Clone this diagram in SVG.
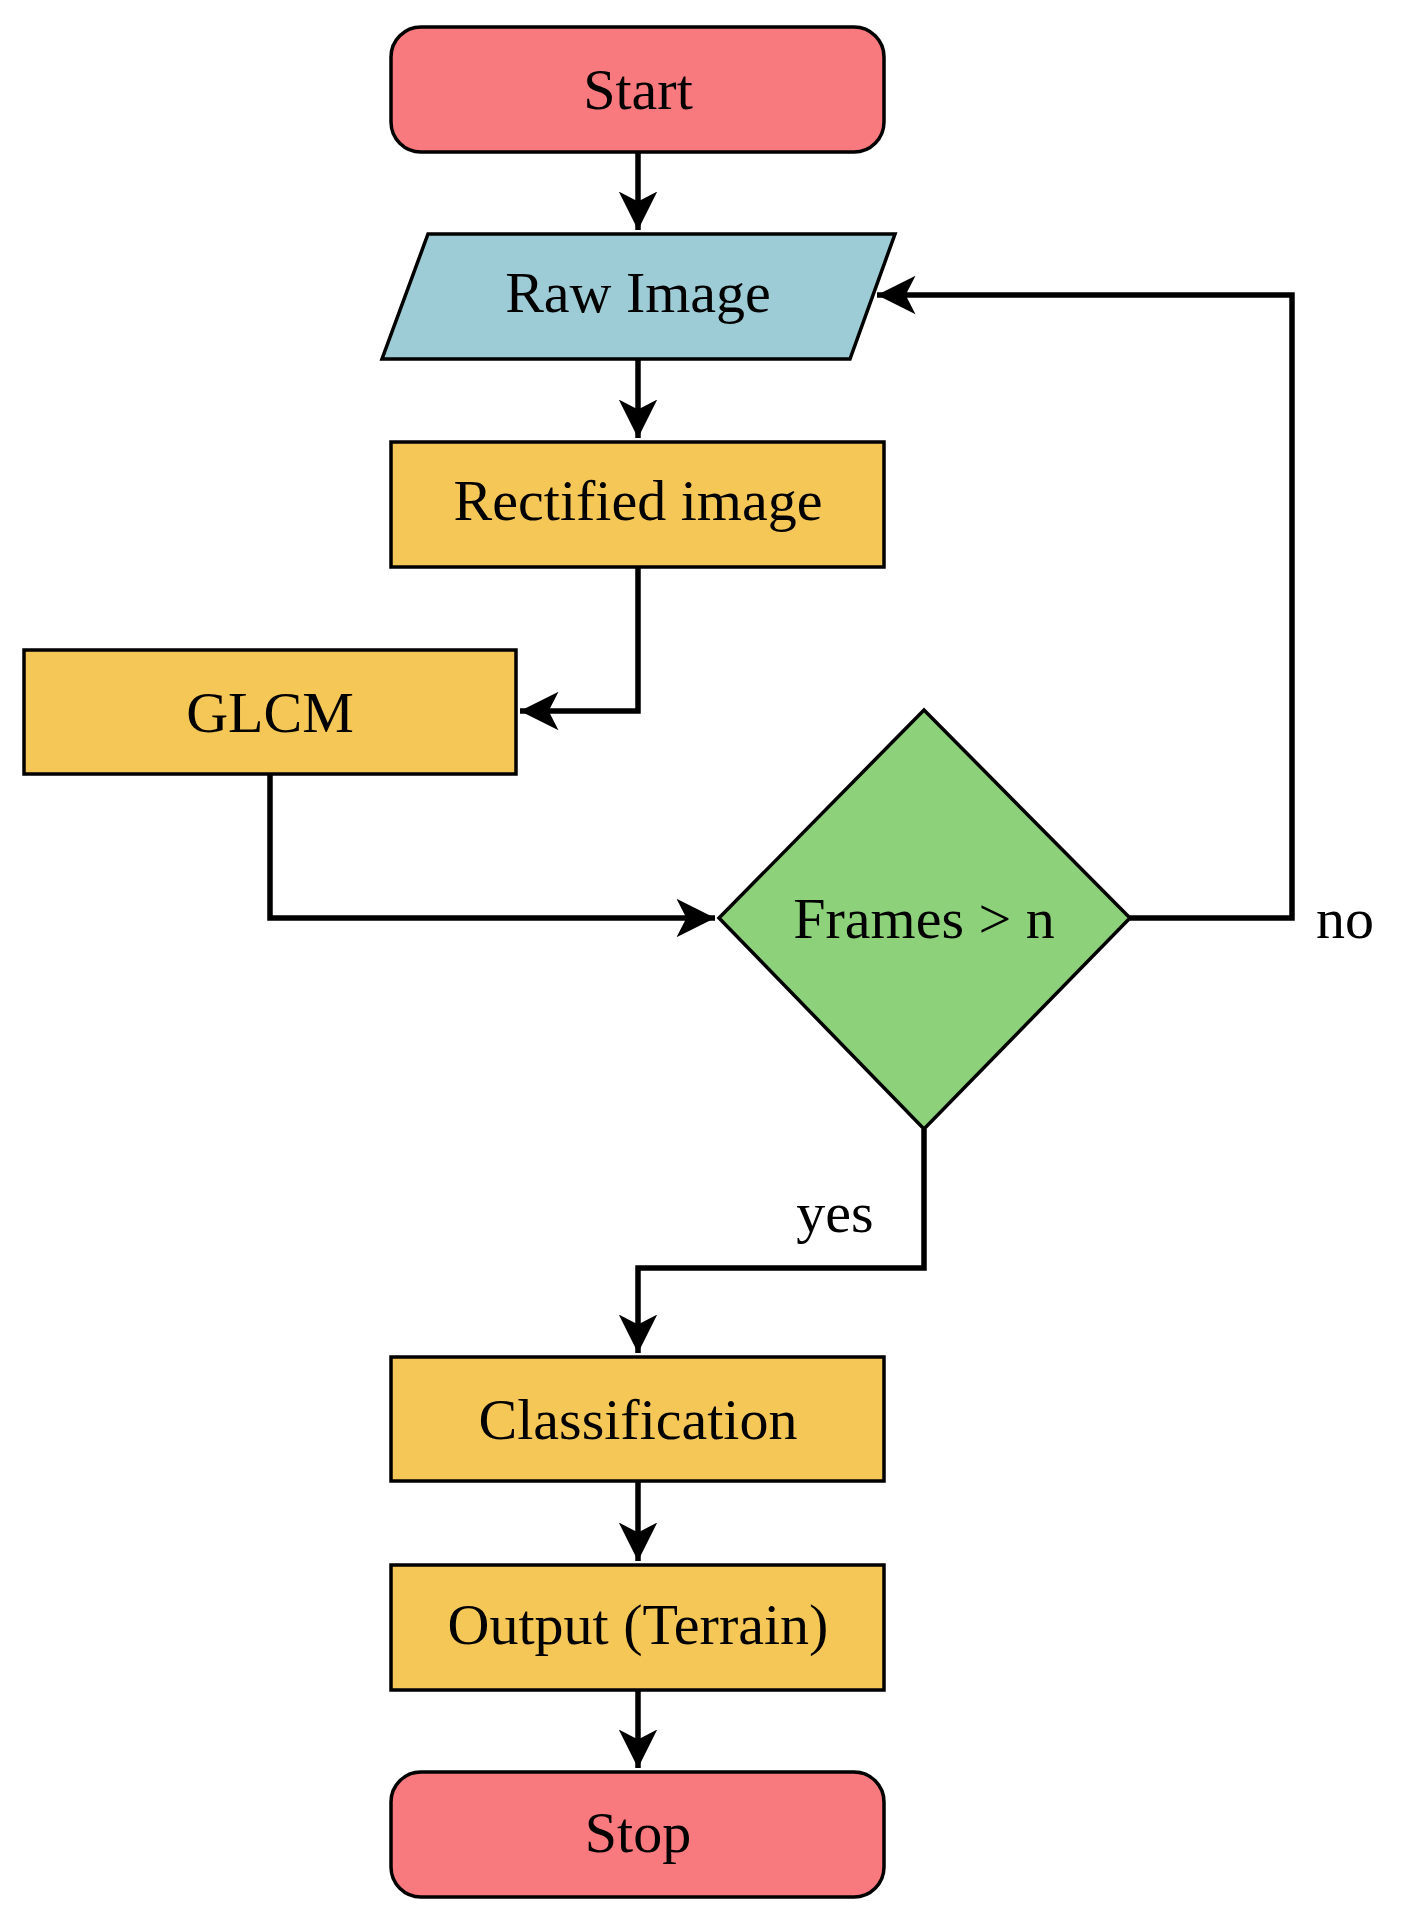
<svg xmlns="http://www.w3.org/2000/svg" width="1402" height="1910" viewBox="0 0 1402 1910">
<style>
.n{stroke:#000;stroke-width:3.5}
.t{font-family:"Liberation Serif",serif;font-size:58px;fill:#000;text-anchor:middle;dominant-baseline:central}
.c{fill:none;stroke:#000;stroke-width:5.5;marker-end:url(#a)}
</style>
<defs><marker id="a" markerWidth="8" markerHeight="8" refX="7" refY="4" orient="auto" markerUnits="strokeWidth"><path d="M0,0.5 L7,4 L0,7.5 L1.8,4 Z" fill="#000"/></marker></defs>
<rect width="1402" height="1910" fill="#fff"/>
<g id="start"><rect class="n" x="391" y="27" width="493" height="125" rx="30" fill="#F87A7E"/><text class="t" x="638" y="89">Start</text></g>
<g id="raw"><polygon class="n" points="428,234 895,234 850,359 382,359" fill="#9DCBD6"/><text class="t" x="638" y="292">Raw Image</text></g>
<g id="rect"><rect class="n" x="391" y="442" width="493" height="125" fill="#F4C757"/><text class="t" x="638" y="500">Rectified image</text></g>
<g id="glcm"><rect class="n" x="24" y="650" width="492" height="124" fill="#F4C757"/><text class="t" x="270" y="712">GLCM</text></g>
<g id="dec"><polygon class="n" points="924,710 1130,918 924,1129 719,918" fill="#8DD17A"/><text class="t" x="924" y="918">Frames &gt; n</text></g>
<g id="cls"><rect class="n" x="391" y="1357" width="493" height="124" fill="#F4C757"/><text class="t" x="638" y="1419">Classification</text></g>
<g id="out"><rect class="n" x="391" y="1565" width="493" height="125" fill="#F4C757"/><text class="t" x="638" y="1624">Output (Terrain)</text></g>
<g id="stop"><rect class="n" x="391" y="1772" width="493" height="125" rx="30" fill="#F87A7E"/><text class="t" x="638" y="1832">Stop</text></g>
<g id="edges">
<path class="c" d="M638,152 V230"/>
<path class="c" d="M638,359 V438"/>
<path class="c" d="M638,567 V711 H520"/>
<path class="c" d="M270,774 V918 H715"/>
<path class="c" d="M1130,918 H1292 V295 H877"/>
<path class="c" d="M924,1129 V1268 H638 V1353"/>
<path class="c" d="M638,1481 V1561"/>
<path class="c" d="M638,1690 V1768"/>
<text class="t" x="1345" y="918">no</text>
<text class="t" x="835" y="1212">yes</text>
</g>
</svg>
